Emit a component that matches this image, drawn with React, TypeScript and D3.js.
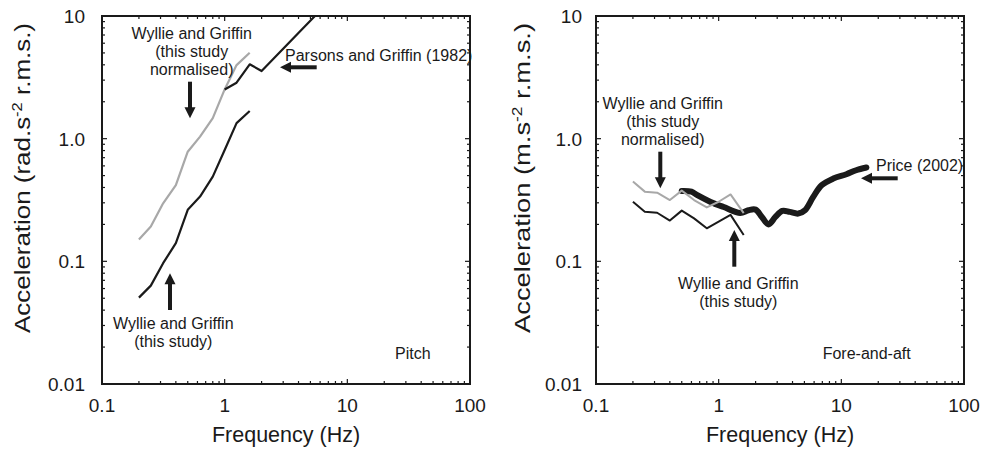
import React from "react";
import * as d3 from "d3";

// ---------- data ----------
const thirdOctaveFreqs = [0.2, 0.25, 0.315, 0.4, 0.5, 0.63, 0.8, 1.0, 1.25, 1.6];

// Pitch panel
const pitchNormalised = [0.151, 0.192, 0.297, 0.419, 0.783, 1.04, 1.47, 2.52, 3.98, 5.02];
const pitchStudy = [0.0506, 0.0634, 0.0966, 0.1406, 0.263, 0.337, 0.49, 0.809, 1.34, 1.68];
const parsonsFreqs = [1.0, 1.25, 1.6, 2.0, 5.6];
const parsonsValues = [2.52, 2.86, 4.04, 3.56, 10.3];

// Fore-and-aft panel
const foreAftNormalised = [0.447, 0.37, 0.363, 0.316, 0.377, 0.316, 0.275, 0.306, 0.351, 0.247];
const foreAftStudy = [0.306, 0.254, 0.249, 0.215, 0.259, 0.224, 0.186, 0.211, 0.239, 0.164];
const priceFreqs = [0.5, 0.6, 0.67, 0.86, 1.1, 1.5, 1.75, 2.0, 2.25, 2.55, 2.9, 3.3, 3.8, 4.45, 5.05, 5.9, 6.9, 8.6, 11, 13.2, 16];
const priceValues = [0.375, 0.37, 0.346, 0.305, 0.277, 0.248, 0.261, 0.264, 0.23, 0.2, 0.23, 0.258, 0.253, 0.245, 0.261, 0.335, 0.417, 0.473, 0.513, 0.553, 0.582];

// Axes
const xTickValues = [0.1, 1, 10, 100];
const xTickLabels = ["0.1", "1", "10", "100"];
const yTickValues = [0.01, 0.1, 1, 10];
const yTickLabels = ["0.01", "0.1", "1.0", "10"];

const FONT = "'Liberation Sans', Arial, Helvetica, sans-serif";
const PLOT = 368;

type Series = { f: number[]; v: number[]; color: string; width: number; smooth?: boolean };
type Note = { lines: string[]; x: number; y: number; anchor: "start" | "middle" };
type Arrow = { x1: number; y1: number; x2: number; y2: number };

function minorTicks(lo: number, hi: number) {
  const out: number[] = [];
  for (let d = lo; d < hi; d *= 10) {
    for (let k = 2; k <= 9; k++) out.push(d * k);
  }
  return out;
}

function ArrowMark({ a }: { a: Arrow }) {
  const dx = a.x2 - a.x1, dy = a.y2 - a.y1;
  const len = Math.hypot(dx, dy);
  const ux = dx / len, uy = dy / len;
  const headLen = 11, headW = 5.5;
  const bx = a.x2 - ux * headLen, by = a.y2 - uy * headLen;
  const px = -uy, py = ux;
  const pts = [
    [a.x2, a.y2],
    [bx + px * headW, by + py * headW],
    [bx - px * headW, by - py * headW],
  ].map((p) => p.join(",")).join(" ");
  return (
    <g>
      <line x1={a.x1} y1={a.y1} x2={bx + ux} y2={by + uy} stroke="#1a1a1a" strokeWidth={4} />
      <polygon points={pts} fill="#1a1a1a" />
    </g>
  );
}

function Panel(props: {
  left: number; top: number; id: string;
  yTitle: React.ReactNode; yTitleX: number; yLabelGap: number;
  series: Series[]; notes: Note[]; arrows: Arrow[];
}) {
  const { left, top, id } = props;
  const x = d3.scaleLog().domain([0.1, 100]).range([0, PLOT]);
  const y = d3.scaleLog().domain([0.01, 10]).range([PLOT, 0]);
  const xMinor = minorTicks(0.1, 100);
  const yMinor = minorTicks(0.01, 10);
  const major = 5, minor = 3;
  return (
    <g>
      <defs>
        <clipPath id={`clip-${id}`}>
          <rect x={0} y={0} width={PLOT} height={PLOT} />
        </clipPath>
      </defs>
      <g transform={`translate(${left},${top})`}>
        {/* ticks */}
        <g stroke="#1a1a1a" strokeWidth={1.2}>
          {xMinor.map((t) => (
            <g key={`xm${t}`}>
              <line x1={x(t)} x2={x(t)} y1={PLOT} y2={PLOT - minor} />
              <line x1={x(t)} x2={x(t)} y1={0} y2={minor} />
            </g>
          ))}
          {xTickValues.map((t) => (
            <g key={`xM${t}`}>
              <line x1={x(t)} x2={x(t)} y1={PLOT} y2={PLOT - major} />
              <line x1={x(t)} x2={x(t)} y1={0} y2={major} />
            </g>
          ))}
          {yMinor.map((t) => (
            <g key={`ym${t}`}>
              <line y1={y(t)} y2={y(t)} x1={0} x2={minor} />
              <line y1={y(t)} y2={y(t)} x1={PLOT} x2={PLOT - minor} />
            </g>
          ))}
          {yTickValues.map((t) => (
            <g key={`yM${t}`}>
              <line y1={y(t)} y2={y(t)} x1={0} x2={major} />
              <line y1={y(t)} y2={y(t)} x1={PLOT} x2={PLOT - major} />
            </g>
          ))}
        </g>
        {/* series */}
        <g clipPath={`url(#clip-${id})`}>
          {props.series.map((s, i) => {
            const pts = s.f.map((f, j) => [f, s.v[j]] as [number, number]);
            const gen = d3.line<[number, number]>()
              .x((d) => x(d[0]))
              .y((d) => y(d[1]))
              .curve(s.smooth ? d3.curveCatmullRom.alpha(0.5) : d3.curveLinear);
            return (
              <path key={i} d={gen(pts) || ""} fill="none" stroke={s.color}
                strokeWidth={s.width} strokeLinejoin="round" strokeLinecap={s.smooth ? "round" : "butt"} />
            );
          })}
        </g>
        {/* frame */}
        <rect x={0} y={0} width={PLOT} height={PLOT} fill="none" stroke="#1a1a1a" strokeWidth={2} />
        {/* tick labels */}
        <g fontFamily={FONT} fontSize={19} fill="#1a1a1a">
          {xTickValues.map((t, i) => (
            <text key={`xl${t}`} x={x(t)} y={PLOT + 28} textAnchor="middle">{xTickLabels[i]}</text>
          ))}
          {yTickValues.map((t, i) => (
            <text key={`yl${t}`} x={-props.yLabelGap} y={y(t) + 7} textAnchor="end">{yTickLabels[i]}</text>
          ))}
        </g>
        <text x={PLOT / 2} y={PLOT + 58} textAnchor="middle" fontFamily={FONT} fontSize={21.5} fill="#1a1a1a">
          Frequency (Hz)
        </text>
        <text transform={`translate(${props.yTitleX},${317}) rotate(-90)`} textAnchor="start"
          textLength={310} lengthAdjust="spacingAndGlyphs"
          fontFamily={FONT} fontSize={22} fill="#1a1a1a">
          {props.yTitle}
        </text>
        {/* annotations */}
        <g fontFamily={FONT} fontSize={16} fill="#1a1a1a">
          {props.notes.map((n, i) => (
            <text key={i} x={n.x} y={n.y} textAnchor={n.anchor}>
              {n.lines.map((l, j) => (
                <tspan key={j} x={n.x} dy={j === 0 ? 0 : 18}>{l}</tspan>
              ))}
            </text>
          ))}
        </g>
        {props.arrows.map((a, i) => <ArrowMark key={i} a={a} />)}
      </g>
    </g>
  );
}

export default function App() {
  const grey = "#a8a8a8";
  const black = "#1a1a1a";
  return (
    <div style={{ position: "absolute", left: 0, top: 0 }}>
      <svg width={987} height={451} viewBox="0 0 987 451" style={{ display: "block", background: "#fff" }}>
        <Panel
          id="pitch"
          left={102}
          top={16}
          yLabelGap={17}
          yTitleX={-72}
          yTitle={<>Acceleration (rad.s<tspan dy={-8} fontSize={14}>-2</tspan><tspan dy={8}> r.m.s.)</tspan></>}
          series={[
            { f: thirdOctaveFreqs, v: pitchNormalised, color: grey, width: 2.2 },
            { f: thirdOctaveFreqs, v: pitchStudy, color: black, width: 2.2 },
            { f: parsonsFreqs, v: parsonsValues, color: black, width: 2.2 },
          ]}
          notes={[
            { lines: ["Wyllie and Griffin", "(this study", "normalised)"], x: 89.7, y: 22.7, anchor: "middle" },
            { lines: ["Wyllie and Griffin", "(this study)"], x: 71.3, y: 313, anchor: "middle" },
            { lines: ["Parsons and Griffin (1982)"], x: 183, y: 45, anchor: "start" },
            { lines: ["Pitch"], x: 293, y: 343, anchor: "start" },
          ]}
          arrows={[
            { x1: 88, y1: 65.7, x2: 88, y2: 102.3 },
            { x1: 68, y1: 294, x2: 68, y2: 257.3 },
            { x1: 214.7, y1: 51.3, x2: 178, y2: 51.3 },
          ]}
        />
        <Panel
          id="fa"
          left={596}
          top={16}
          yLabelGap={14}
          yTitleX={-66}
          yTitle={<>Acceleration (m.s<tspan dy={-8} fontSize={14}>-2</tspan><tspan dy={8}> r.m.s.)</tspan></>}
          series={[
            { f: priceFreqs, v: priceValues, color: black, width: 6, smooth: true },
            { f: thirdOctaveFreqs, v: foreAftNormalised, color: grey, width: 2 },
            { f: thirdOctaveFreqs, v: foreAftStudy, color: black, width: 2 },
          ]}
          notes={[
            { lines: ["Wyllie and Griffin", "(this study", "normalised)"], x: 66.7, y: 92.7, anchor: "middle" },
            { lines: ["Wyllie and Griffin", "(this study)"], x: 142.3, y: 272.7, anchor: "middle" },
            { lines: ["Price (2002)"], x: 280, y: 155, anchor: "start" },
            { lines: ["Fore-and-aft"], x: 226.7, y: 342.7, anchor: "start" },
          ]}
          arrows={[
            { x1: 64.3, y1: 135.7, x2: 64.3, y2: 172.3 },
            { x1: 138.3, y1: 250.7, x2: 138.3, y2: 214 },
            { x1: 301.7, y1: 162.3, x2: 265, y2: 162.3 },
          ]}
        />
      </svg>
    </div>
  );
}
